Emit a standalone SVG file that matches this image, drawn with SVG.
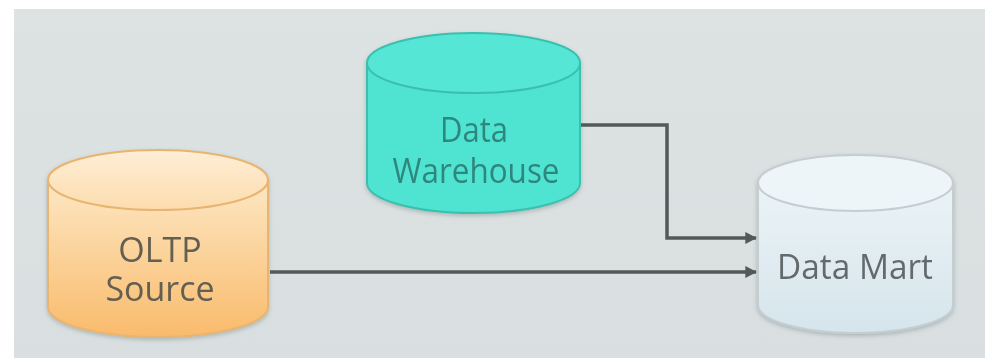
<svg xmlns="http://www.w3.org/2000/svg" width="985" height="358" viewBox="0 0 985 358">
  <style>
    .lbl { font-family: "Open Sans", "Noto Sans", "DejaVu Sans", sans-serif; font-size: 34px; text-anchor: middle; }
    .conn { fill: none; stroke: #535959; stroke-width: 3.5; }
  </style>
  <defs>
    <linearGradient id="bg" x1="0" y1="0" x2="0" y2="1">
      <stop offset="0" stop-color="#dde2e2"/>
      <stop offset="1" stop-color="#d9dfe0"/>
    </linearGradient>
    <linearGradient id="oltpBody" x1="0" y1="0" x2="0" y2="1">
      <stop offset="0" stop-color="#fde7c4"/>
      <stop offset="1" stop-color="#f9bb6c"/>
    </linearGradient>
    <linearGradient id="oltpTop" x1="0" y1="0" x2="0" y2="1">
      <stop offset="0" stop-color="#feeed6"/>
      <stop offset="1" stop-color="#fcdcae"/>
    </linearGradient>
    <linearGradient id="martBody" x1="0" y1="0" x2="0" y2="1">
      <stop offset="0" stop-color="#ebf3f7"/>
      <stop offset="1" stop-color="#d6e5ec"/>
    </linearGradient>
    <filter id="shadow" x="-10%" y="-10%" width="120%" height="130%">
      <feDropShadow dx="0" dy="2" stdDeviation="2" flood-color="#5a6a6a" flood-opacity="0.35"/>
    </filter>
    <marker id="arrow" viewBox="0 0 10 10" refX="9" refY="5" markerWidth="3.4" markerHeight="3.4" orient="auto" markerUnits="strokeWidth">
      <path d="M0,0 L10,5 L0,10 Z" fill="#535959"/>
    </marker>
  </defs>

  <!-- backdrop -->
  <rect x="0" y="0" width="985" height="358" fill="#ffffff"/>
  <rect x="14" y="9" width="971" height="349" fill="url(#bg)"/>

  <!-- connectors -->
  <g id="connectors">
    <path class="conn" d="M580,125 H667 V238 H756" marker-end="url(#arrow)"/>
    <path class="conn" d="M270,272 H756" marker-end="url(#arrow)"/>
  </g>

  <!-- OLTP source -->
  <g id="oltp-source" filter="url(#shadow)">
    <path d="M48,180 V307 A110,30 0 0 0 268,307 V180 Z" fill="url(#oltpBody)" stroke="#e8b571" stroke-width="2"/>
    <ellipse cx="158" cy="180" rx="110" ry="30" fill="url(#oltpTop)" stroke="#e8b571" stroke-width="2"/>
    <text class="lbl" fill="#645e51" x="160" y="262">OLTP</text>
    <text class="lbl" fill="#645e51" x="160" y="301">Source</text>
  </g>

  <!-- Data warehouse -->
  <g id="data-warehouse" filter="url(#shadow)">
    <path d="M367,63 V183 A106.5,30 0 0 0 580,183 V63 Z" fill="#4fe3d2" stroke="#3bbfae" stroke-width="2"/>
    <ellipse cx="473.5" cy="63" rx="106.5" ry="30" fill="#55e6d6" stroke="#3bbfae" stroke-width="2"/>
    <text class="lbl" fill="#2f877d" x="474" y="142" textLength="68" lengthAdjust="spacingAndGlyphs">Data</text>
    <text class="lbl" fill="#2f877d" x="476" y="183" textLength="167" lengthAdjust="spacingAndGlyphs">Warehouse</text>
  </g>

  <!-- Data mart -->
  <g id="data-mart" filter="url(#shadow)">
    <path d="M758,183 V305 A97.5,28 0 0 0 953,305 V183 Z" fill="url(#martBody)" stroke="#c3cdd2" stroke-width="2"/>
    <ellipse cx="855.5" cy="183" rx="97.5" ry="28" fill="#eef5f8" stroke="#c3cdd2" stroke-width="2"/>
    <text class="lbl" fill="#646b6d" x="855" y="279" textLength="156" lengthAdjust="spacingAndGlyphs">Data Mart</text>
  </g>
</svg>
